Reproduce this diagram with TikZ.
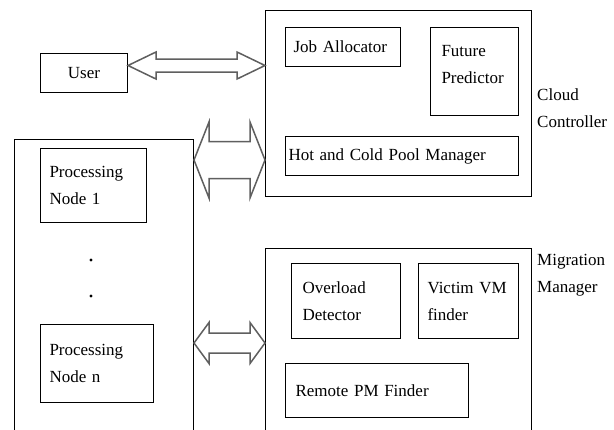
\documentclass[tikz,border=0pt]{standalone}
\usepackage{fontspec}
\setmainfont{Liberation Serif}
\usetikzlibrary{calc}
\definecolor{arrowgray}{RGB}{95,95,95}
\tikzset{
  frame/.style={draw, line width=1pt, anchor=north west, inner sep=0pt},
  part/.style={draw, line width=1pt, anchor=north west, align=left, inner ysep=0pt, font=\fontsize{17}{27}\selectfont},
  tag/.style={anchor=north west, align=left, inner sep=0pt, font=\fontsize{17}{27}\selectfont},
  bigarrow/.style={draw=arrowgray, line width=1.5pt, line join=miter},
}
% tips #1 and #2, half shaft #3, half head #4, head length #5
\newcommand{\hollowarrow}[5]{%
  \draw[bigarrow] (#1) -- ($(#1)+(#5,-#4)$) -- ($(#1)+(#5,-#3)$) -- ($(#2)+(-#5,-#3)$)
    -- ($(#2)+(-#5,-#4)$) -- (#2) -- ($(#2)+(-#5,#4)$) -- ($(#2)+(-#5,#3)$)
    -- ($(#1)+(#5,#3)$) -- ($(#1)+(#5,#4)$) -- cycle;}
\begin{document}
\begin{tikzpicture}[x=1pt, y=-1pt]
    \clip (0,0) rectangle (614,429);
    \fill[white] (0,0) rectangle (614,429);

    \node[part, inner xsep=9pt, text width=69pt, minimum height=39pt] (user) at (40,53) {\hfil User};

    \node[frame, minimum width=266pt, minimum height=186pt] (cloud) at (265,10) {};
    \node[part, inner xsep=8pt, text width=99pt, minimum height=39pt] (jobs) at (285,27) {Job Allocator};
    \node[part, inner xsep=11pt, text width=66pt, minimum height=88pt, text depth=42pt] (future) at (430,27) {Future\\Predictor};
    \node[part, inner xsep=3pt, text width=227pt, minimum height=39pt] (pool) at (285,136) {Hot and Cold Pool Manager};
    \node[tag] (cloudlbl) at (537,89) {Cloud\\Controller};

    \node[frame, minimum width=179pt, minimum height=320pt] (procs) at (14,139) {};
    \node[part, inner xsep=9pt, text width=88pt, minimum height=74pt] (pn1) at (40,148) {Processing\\Node 1};
    \node[circle, fill, inner sep=1.1pt] (dot1) at (91,260) {};
    \node[circle, fill, inner sep=1.1pt] (dot2) at (91,296) {};
    \node[part, inner xsep=9pt, text width=95pt, minimum height=78pt] (pnn) at (40,324) {Processing\\Node n};

    \node[frame, minimum width=266pt, minimum height=220pt] (migr) at (265,248) {};
    \node[part, inner xsep=11pt, text width=87pt, minimum height=75pt] (overload) at (291,263) {Overload\\Detector};
    \node[part, inner xsep=9pt, text width=82pt, minimum height=75pt] (victim) at (418,263) {Victim VM\\finder};
    \node[part, inner xsep=10pt, text width=163pt, minimum height=54pt] (remote) at (285,363) {Remote PM Finder};
    \node[tag] (migrlbl) at (537,254) {Migration\\Manager};

    \coordinate (ua) at ([yshift=7.5pt]user.east);
    \coordinate (ub) at (ua -| cloud.west);
    \coordinate (pa) at ($(procs.north east)+(0,21)$);
    \coordinate (pb) at (pa -| cloud.west);
    \coordinate (mb) at ($(migr.north west)+(0,95)$);
    \coordinate (ma) at (mb -| procs.east);

    \hollowarrow{ua}{ub}{6.5}{13.5}{28}
    \hollowarrow{pa}{pb}{18.5}{38}{15}
    \hollowarrow{ma}{mb}{10}{20.5}{15}
\end{tikzpicture}
\end{document}
